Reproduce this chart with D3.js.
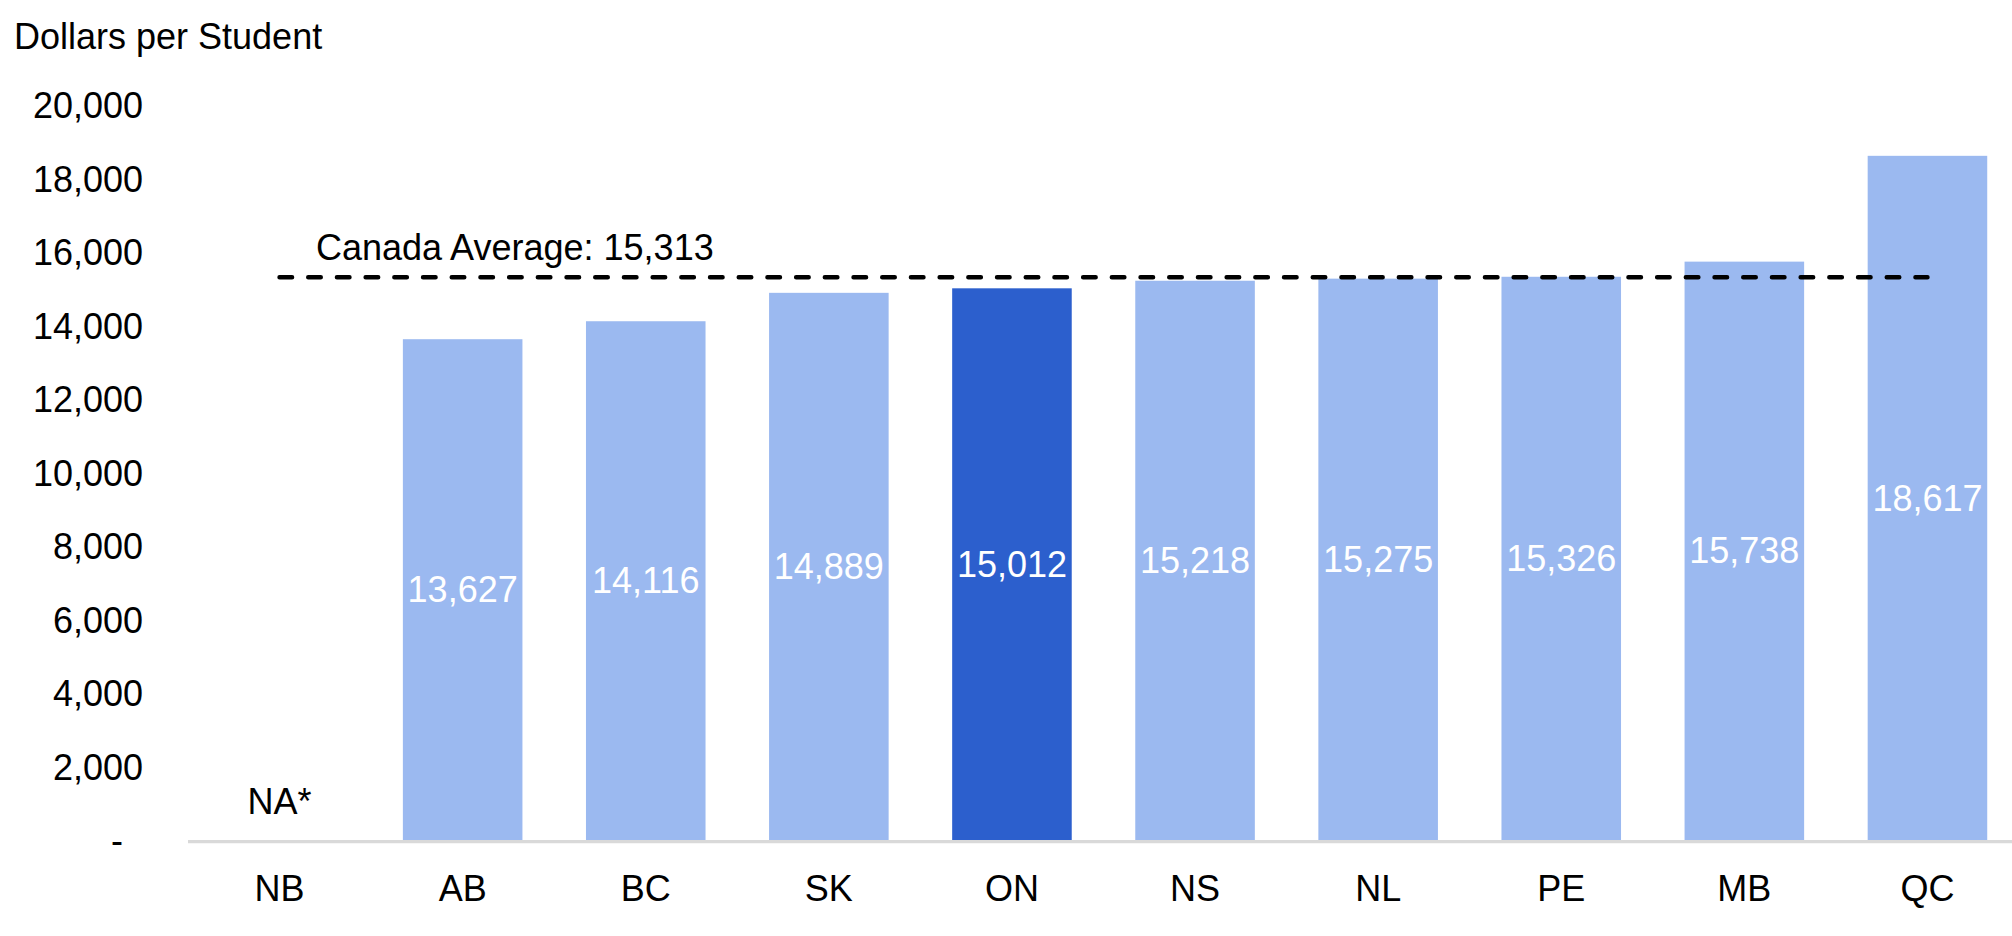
<!DOCTYPE html>
<html>
<head>
<meta charset="utf-8">
<script src="https://cdn.jsdelivr.net/npm/d3@7"></script>
<style>
  html, body { margin: 0; padding: 0; background: #fff; }
  svg { display: block; }
  text { font-family: "Liberation Sans", Arial, sans-serif; }
</style>
</head>
<body>
<svg id="chart" width="2012" height="936"></svg>
<script>
const categories = ["NB", "AB", "BC", "SK", "ON", "NS", "NL", "PE", "MB", "QC"];
const values = [null, 13627, 14116, 14889, 15012, 15218, 15275, 15326, 15738, 18617];
const highlight = ["ON"];
const naLabel = "NA*";
const canadaAverage = 15313;
const averageLabel = "Canada Average: 15,313";
const yTicks = [0, 2000, 4000, 6000, 8000, 10000, 12000, 14000, 16000, 18000, 20000];
const yTitle = "Dollars per Student";

const svg = d3.select("#chart");
const W = 2012, H = 936;
const fontSize = 36;

const x = d3.scaleBand()
  .domain(categories)
  .range([188, 2019])
  .paddingInner(0.347)
  .paddingOuter(0.1735);

const y = d3.scaleLinear().domain([0, 20000]).range([840, 105]);

// Y axis labels
const yAxis = d3.axisLeft(y)
  .tickValues(yTicks)
  .tickSize(0)
  .tickPadding(0)
  .tickFormat(d => d === 0 ? "-" : d3.format(",")(d));
const gy = svg.append("g").attr("transform", "translate(143,0)").call(yAxis);
gy.select(".domain").remove();
gy.selectAll("text")
  .attr("fill", "#000")
  .style("font-size", fontSize + "px")
  .style("font-family", '"Liberation Sans", Arial, sans-serif')
  .attr("dy", "0.35em")
  .attr("dx", d => d === 0 ? -20 : 0);

// Y title
svg.append("text")
  .attr("x", 14).attr("y", 49)
  .style("font-size", fontSize + "px")
  .attr("fill", "#000")
  .text(yTitle);

// Bars
const data = categories.map((c, i) => ({ c, v: values[i] }));
svg.append("g").selectAll("rect")
  .data(data.filter(d => d.v != null))
  .join("rect")
  .attr("x", d => x(d.c))
  .attr("width", x.bandwidth())
  .attr("y", d => y(d.v))
  .attr("height", d => y(0) - y(d.v))
  .attr("fill", d => highlight.includes(d.c) ? "#2c5fcd" : "#9bb9f0");

// X axis baseline
svg.append("line")
  .attr("x1", 188).attr("x2", W)
  .attr("y1", y(0) + 1.6).attr("y2", y(0) + 1.6)
  .attr("stroke", "#d9d9d9").attr("stroke-width", 3.3);

// X axis labels
const xAxis = d3.axisBottom(x).tickSize(0).tickPadding(0);
const gx = svg.append("g").attr("transform", "translate(0,901)").call(xAxis);
gx.select(".domain").remove();
gx.selectAll("text")
  .attr("fill", "#000")
  .attr("dy", 0)
  .style("font-size", fontSize + "px")
  .style("font-family", '"Liberation Sans", Arial, sans-serif');

// Value labels
svg.append("g").selectAll("text")
  .data(data.filter(d => d.v != null))
  .join("text")
  .attr("x", d => x(d.c) + x.bandwidth() / 2)
  .attr("y", d => (y(d.v) + y(0)) / 2)
  .attr("dy", "0.35em")
  .attr("text-anchor", "middle")
  .attr("fill", "#fff")
  .style("font-size", fontSize + "px")
  .text(d => d3.format(",")(d.v));

// NA label
data.filter(d => d.v == null).forEach(d => {
  svg.append("text")
    .attr("x", x(d.c) + x.bandwidth() / 2)
    .attr("y", 814)
    .attr("text-anchor", "middle")
    .attr("fill", "#000")
    .style("font-size", fontSize + "px")
    .text(naLabel);
});

// Average line
const first = categories[0], last = categories[categories.length - 1];
svg.append("line")
  .attr("x1", x(first) + x.bandwidth() / 2)
  .attr("x2", x(last) + x.bandwidth() / 2)
  .attr("y1", y(canadaAverage)).attr("y2", y(canadaAverage))
  .attr("stroke", "#000")
  .attr("stroke-width", 4.5)
  .attr("stroke-linecap", "round")
  .attr("stroke-dasharray", "12.5,16.2");

svg.append("text")
  .attr("x", 316).attr("y", 260)
  .attr("fill", "#000")
  .style("font-size", fontSize + "px")
  .text(averageLabel);
</script>
</body>
</html>
